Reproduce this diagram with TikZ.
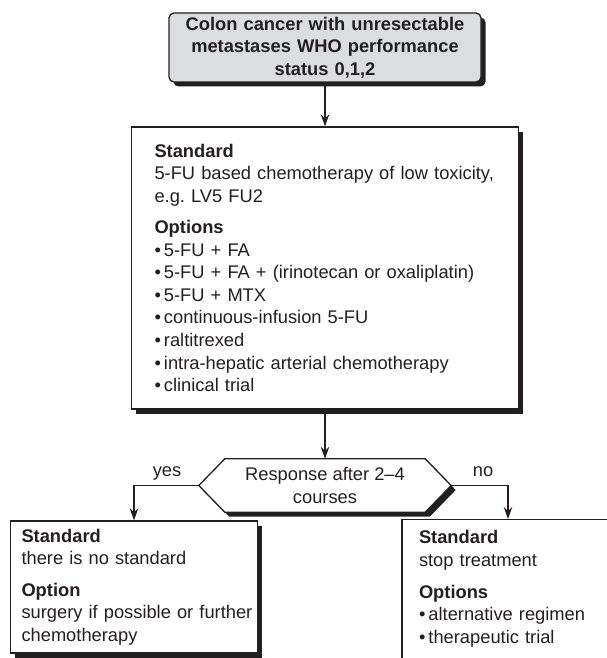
\documentclass[tikz,border=0pt]{standalone}
\usepackage{fontspec}
\setmainfont{Liberation Sans}
\usetikzlibrary{arrows.meta,shadows,backgrounds}
\definecolor{InkBlack}{RGB}{35,31,32}
\definecolor{HeadGray}{RGB}{220,221,223}
\newcommand{\chartfont}{\fontsize{18.3}{22.6}\selectfont}
\newcommand{\bul}{\textbullet\,}

\begin{document}
\begin{tikzpicture}[x=1pt, y=-1pt,
    box/.style={draw=InkBlack, line width=1.3pt, fill=white, text=InkBlack,
      font=\chartfont, align=left,
      drop shadow={shadow xshift=4.5pt, shadow yshift=-4.5pt, fill=InkBlack, opacity=1}},
    flow/.style={draw=InkBlack, line width=1.2pt, -{Stealth[length=12pt,width=8.5pt]}},
    answer/.style={text=InkBlack, font=\chartfont, anchor=base, yshift=9pt, inner sep=0pt}]
  \useasboundingbox (0,0) rectangle (607,658);
  \clip (0,0) rectangle (607,658);

  % Entry condition
  \node[box, fill=HeadGray, rounded corners=5pt, align=center, font=\chartfont\bfseries,
    text width=304pt, minimum width=312pt, minimum height=69pt, inner sep=0pt]
    (entry) at (325,47.5)
    {Colon cancer with unresectable\\metastases WHO performance\\status 0,1,2};

  % First-line treatment
  \node[box, text width=341pt, inner xsep=23pt, inner ysep=0pt, minimum height=282pt]
    (first) at (325,268)
    {\textbf{Standard}\\
     5-FU based chemotherapy of low toxicity,\\
     e.g.\ LV5 FU2\\[8.5pt]
     \textbf{Options}\\
     \bul 5-FU + FA\\
     \bul 5-FU + FA + (irinotecan or oxaliplatin)\\
     \bul 5-FU + MTX\\
     \bul continuous-infusion 5-FU\\
     \bul raltitrexed\\
     \bul intra-hepatic arterial chemotherapy\\
     \bul clinical trial};

  % Response check
  \node[text=InkBlack, font=\chartfont, align=center, minimum width=200pt,
    minimum height=53pt, inner sep=0pt] (resp) at (325,485.5)
    {Response after 2–4\\courses};
  \coordinate (respW) at ([xshift=-26pt]resp.west);
  \coordinate (respE) at ([xshift=26pt]resp.east);
  \begin{scope}[on background layer]
    \draw[InkBlack, line width=1.3pt, fill=white,
      drop shadow={shadow xshift=4.5pt, shadow yshift=-4.5pt, fill=InkBlack, opacity=1}]
      (resp.north west) -- (resp.north east) -- (respE) -- (resp.south east)
      -- (resp.south west) -- (respW) -- cycle;
  \end{scope}

  % Outcomes
  \node[box, text width=225pt, inner xsep=11pt, inner ysep=0pt, minimum height=132pt]
    (yesbox) at (134,587)
    {\textbf{Standard}\\
     there is no standard\\[9pt]
     \textbf{Option}\\
     \mbox{surgery if possible or further}\\
     chemotherapy};
  \node[box, anchor=north, text width=178pt, inner xsep=17pt, inner ysep=11pt]
    (nobox) at (508,519)
    {\textbf{Standard}\\
     stop treatment\\[9pt]
     \textbf{Options}\\
     \bul alternative regimen\\
     \bul therapeutic trial\rule[-16pt]{0pt}{0pt}};

  % Connectors
  \draw[flow] (entry) -- (first);
  \draw[flow] (first) -- (resp);
  \draw[flow] (respW) -| node[answer, pos=0.245] {yes} (yesbox.north);
  \draw[flow] (respE) -| node[answer, pos=0.28] {no} (nobox.north);
\end{tikzpicture}
\end{document}
